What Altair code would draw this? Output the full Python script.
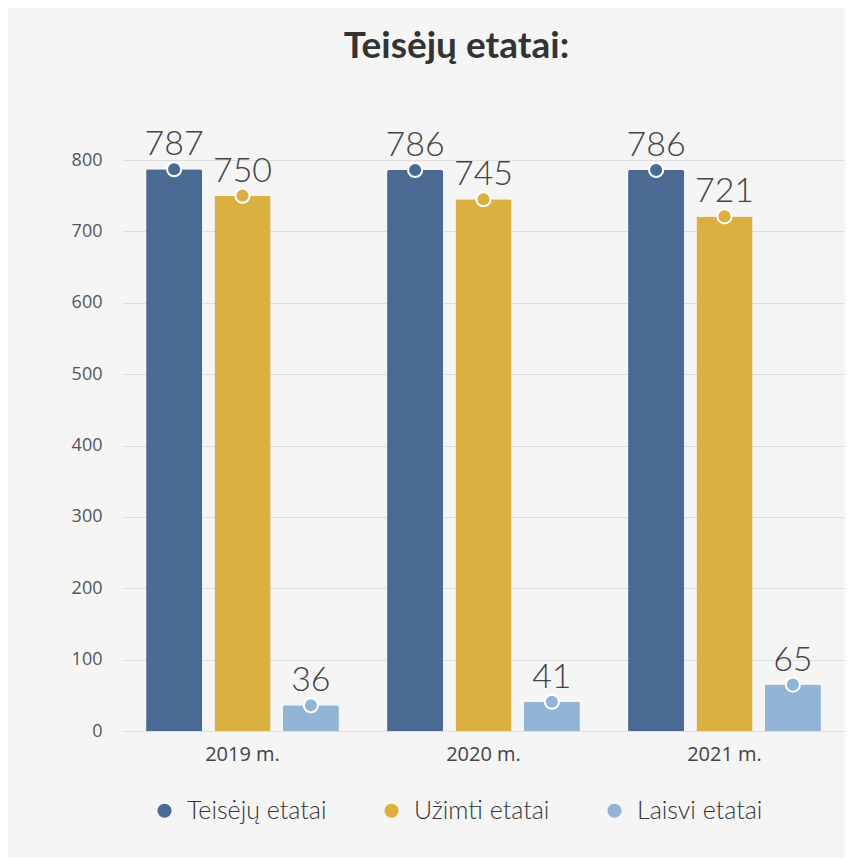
import altair as alt
import pandas as pd

years = ["2019 m.", "2020 m.", "2021 m."]
series = ["Teisėjų etatai", "Užimti etatai", "Laisvi etatai"]
teiseju = [787, 786, 786]
uzimti = [750, 745, 721]
laisvi = [36, 41, 65]
colors = ["#4a6a93", "#dcb040", "#92b5d6"]

rows = []
for i, y in enumerate(years):
    for s, vals in zip(series, [teiseju, uzimti, laisvi]):
        rows.append({"year": y, "series": s, "value": vals[i]})
df = pd.DataFrame(rows)

FONT = "Lato"
AXFONT = "Open Sans"

base = alt.Chart(df).encode(
    x=alt.X("year:N", sort=years, title=None,
            scale=alt.Scale(paddingInner=0.2, paddingOuter=0.1),
            axis=alt.Axis(labelAngle=0, labelFont=AXFONT, labelFontSize=20,
                          labelFontWeight="normal",
                          labelColor="#444", domain=False, ticks=True,
                          bandPosition=0, tickColor="#d0d0d0", tickSize=9,
                          offset=-9, labelPadding=13)),
    xOffset=alt.XOffset("series:N", sort=series,
                        scale=alt.Scale(paddingInner=0.18, paddingOuter=0)),
    y=alt.Y("value:Q", title=None,
            scale=alt.Scale(domain=[0, 800], nice=False),
            axis=alt.Axis(values=[0, 100, 200, 300, 400, 500, 600, 700, 800],
                          labelFont=AXFONT, labelFontSize=18, labelColor="#555",
                          labelFontWeight="normal",
                          domain=False, ticks=False, labelPadding=20,
                          gridColor="#dedede", gridWidth=1)),
    color=alt.Color("series:N", sort=series,
                    scale=alt.Scale(domain=series, range=colors),
                    legend=alt.Legend(title=None, orient="none", direction="horizontal",
                                      legendX=30, legendY=638, symbolType="circle",
                                      symbolSize=200, symbolStrokeWidth=0,
                                      labelFont=FONT, labelFontSize=25,
                                      labelFontWeight=300,
                                      labelColor="#333", columnPadding=52,
                                      symbolOffset=0, labelOffset=10)),
)

bars = base.mark_bar(cornerRadiusTopLeft=2, cornerRadiusTopRight=2)
points = base.mark_point(filled=True, shape="circle", size=200, stroke="white",
                         strokeWidth=2, opacity=1, strokeOpacity=1)
labels = base.mark_text(dy=-14, baseline="alphabetic", font=FONT, fontSize=34,
                        fontWeight=300,
                        color="#444").encode(text="value:Q", color=alt.value("#444"))

chart = alt.layer(bars, points, labels).properties(
    width=723, height=571,
    background="#f5f5f5",
    padding={"left": 114, "top": 152, "right": 0, "bottom": 127},
    autosize=alt.AutoSizeParams(type="none"),
    title=alt.TitleParams("Teisėjų etatai:", font=FONT, fontSize=37,
                          fontWeight="bold", color="#333", anchor="middle",
                          frame="group", dx=-27, offset=25, baseline="bottom"),
).configure_view(stroke=None)

chart.save("out.html", embed_options={"renderer": "svg", "actions": False})
